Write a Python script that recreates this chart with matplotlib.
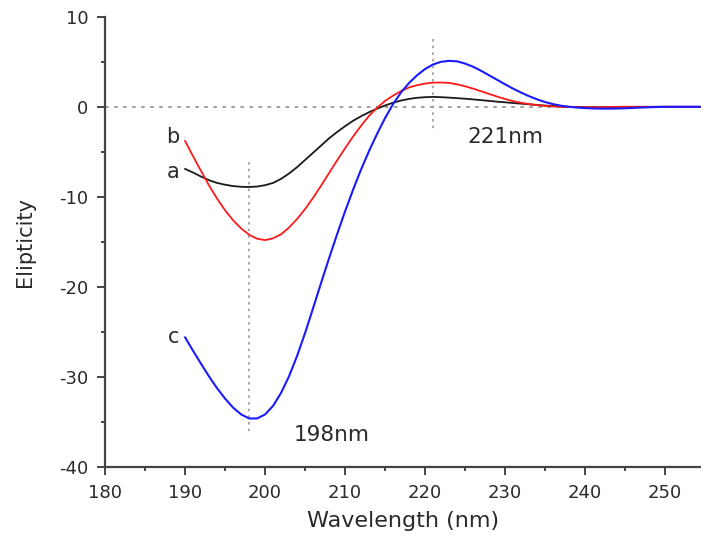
import matplotlib
matplotlib.use("Agg")
import matplotlib.pyplot as plt
from matplotlib.ticker import MultipleLocator

plt.rcParams['font.family'] = ['DejaVu Sans']
plt.rcParams['axes.unicode_minus'] = False

# wavelength grid (nm)
wl = list(range(190, 256))

# curve a (black)
ell_a = [-6.9, -7.3, -7.75, -8.15, -8.45, -8.65, -8.8, -8.88, -8.9, -8.85,
         -8.7, -8.45, -8.0, -7.4, -6.7, -5.9, -5.1, -4.3, -3.5, -2.8,
         -2.15, -1.55, -1.05, -0.6, -0.2, 0.15, 0.45, 0.7, 0.88, 1.0,
         1.07, 1.1, 1.07, 1.02, 0.96, 0.9, 0.82, 0.74, 0.66, 0.57,
         0.5, 0.42, 0.35, 0.28, 0.2, 0.14, 0.09, 0.04, 0.0, -0.02,
         -0.04, -0.05, -0.05, -0.04, -0.02, 0.0, 0.0, 0.0, 0.0, 0.0,
         0.0, 0.0, 0.0, 0.0, 0.0, 0.0]

# curve b (red)
ell_b = [-3.8, -5.5, -7.15, -8.75, -10.2, -11.5, -12.6, -13.5, -14.2, -14.65,
         -14.8, -14.6, -14.15, -13.4, -12.45, -11.35, -10.1, -8.75, -7.35, -5.95,
         -4.6, -3.3, -2.1, -1.0, -0.1, 0.65, 1.25, 1.75, 2.15, 2.4,
         2.58, 2.68, 2.7, 2.65, 2.5, 2.28, 2.02, 1.73, 1.43, 1.14,
         0.87, 0.63, 0.45, 0.3, 0.19, 0.1, 0.04, 0.0, -0.02, -0.04,
         -0.05, -0.05, -0.04, -0.02, 0.0, 0.0, 0.0, 0.0, 0.0, 0.0,
         0.0, 0.0, 0.0, 0.0, 0.0, 0.0]

# curve c (blue)
ell_c = [-25.6, -27.1, -28.55, -29.95, -31.25, -32.4, -33.4, -34.15, -34.6, -34.6,
         -34.15, -33.2, -31.75, -29.9, -27.65, -25.1, -22.35, -19.55, -16.8, -14.15,
         -11.6, -9.2, -6.95, -4.9, -3.0, -1.25, 0.3, 1.6, 2.65, 3.5,
         4.2, 4.7, 5.0, 5.1, 5.05, 4.8, 4.45, 4.0, 3.5, 3.0,
         2.5, 2.02, 1.58, 1.18, 0.83, 0.53, 0.3, 0.12, 0.0, -0.08,
         -0.14, -0.18, -0.2, -0.2, -0.19, -0.16, -0.12, -0.08, -0.05, -0.02,
         0.0, 0.0, 0.0, 0.0, 0.0, 0.0]

fig = plt.figure(figsize=(7.01, 5.40), dpi=100)
ax = fig.add_axes([0.150, 0.135, 0.850, 0.834])

grey = '#999999'
# reference lines
ax.axhline(0, color=grey, ls=(0, (2, 3)), lw=1.3, zorder=1)
ax.plot([198, 198], [-6.1, -36.2], color=grey, ls=(0, (1.5, 2.5)), lw=1.2, zorder=1)
ax.plot([221, 221], [7.5, -2.5], color=grey, ls=(0, (1.5, 2.5)), lw=1.2, zorder=1)

ax.plot(wl, ell_a, color='#1a1a1a', lw=1.3, zorder=3)
ax.plot(wl, ell_b, color='#ff1a1a', lw=1.3, zorder=4)
ax.plot(wl, ell_c, color='#1a1aff', lw=1.5, zorder=5)

txt = '#2a2a2a'
ax.text(189.3, -3.3, 'b', ha='right', va='center', fontsize=15, color=txt)
ax.text(189.3, -7.2, 'a', ha='right', va='center', fontsize=15, color=txt)
ax.text(189.3, -25.6, 'c', ha='right', va='center', fontsize=15, color=txt)
ax.text(230, -3.3, '221nm', ha='center', va='center', fontsize=15.5, color=txt)
ax.text(208.3, -36.4, '198nm', ha='center', va='center', fontsize=15.5, color=txt)

ax.set_xlim(180, 254.5)
ax.set_ylim(-40, 10)
ax.xaxis.set_major_locator(MultipleLocator(10))
ax.xaxis.set_minor_locator(MultipleLocator(5))
ax.yaxis.set_major_locator(MultipleLocator(10))
ax.yaxis.set_minor_locator(MultipleLocator(5))

for s in ['top', 'right']:
    ax.spines[s].set_visible(False)
for s in ['left', 'bottom']:
    ax.spines[s].set_color('#444444')
    ax.spines[s].set_linewidth(1.6)

ax.tick_params(which='major', direction='out', length=6, width=1.4,
               color='#444444', labelsize=13, labelcolor=txt)
ax.tick_params(axis='x', which='major', pad=6)
ax.tick_params(axis='y', which='major', pad=6)
ax.tick_params(which='minor', direction='out', length=3, width=1.4,
               color='#444444')

ax.set_xlabel('Wavelength (nm)', fontsize=16, color=txt, labelpad=7)
ax.set_ylabel('Elipticity', fontsize=15, color=txt)
ax.yaxis.set_label_coords(-0.118, 0.5)

fig.savefig('out.png', dpi=100)
